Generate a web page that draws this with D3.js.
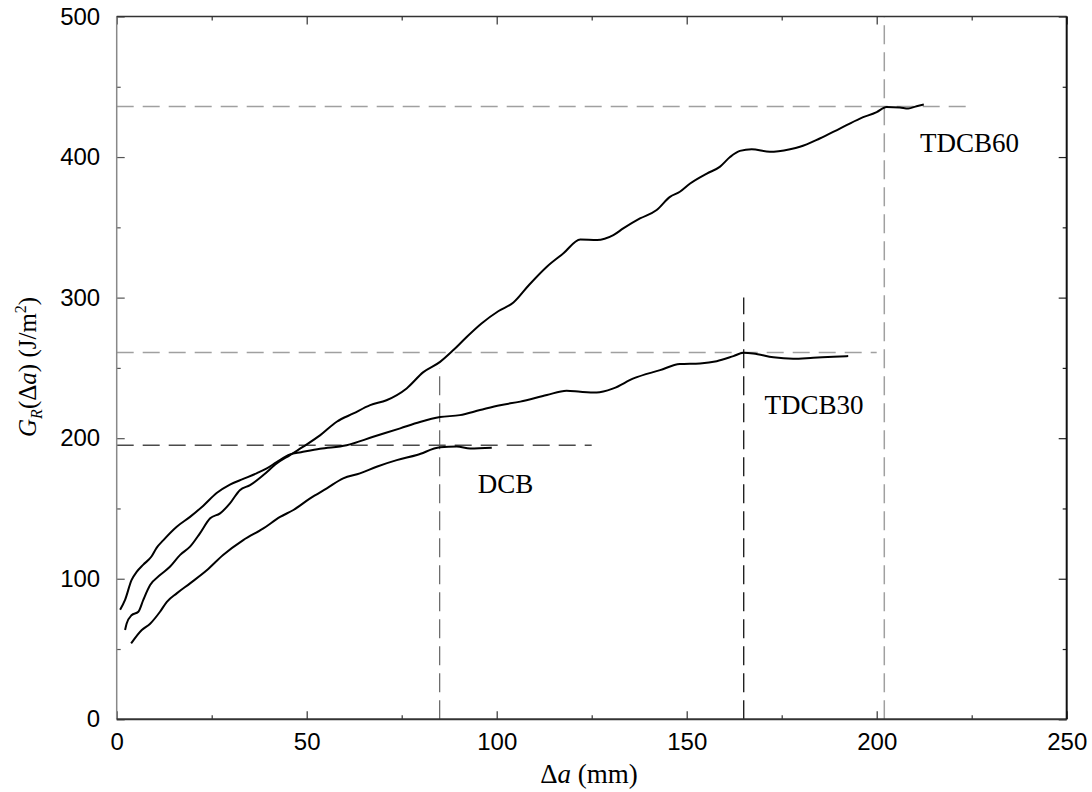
<!DOCTYPE html>
<html>
<head>
<meta charset="utf-8">
<script src="https://cdn.jsdelivr.net/npm/d3@7"></script>
<style>
  body { margin: 0; background: #fff; }
  svg { display: block; }
</style>
</head>
<body>
<svg id="chart"></svg>
<script>
// crack extension da (mm) vs resistance G_R (J/m^2)
const dcb = [[3.8,54],[6.6,63.5],[8.8,68],[11.4,76.5],[13.2,83.6],[15.8,89.6],[19.3,96.7],[23.7,106],[28,116.9],
  [33.3,127.5],[38.6,135.8],[43,144],[46.5,148.9],[50.9,157.2],[55.3,164.3],[59.6,171.4],[64,175],[68.4,179.7],
  [73.7,184.4],[79,188],[85.1,193.5],[89.5,194],[93,192.7],[98.7,193.2]];

const tdcb30 = [[0.9,78],[2.2,85],[3.9,99],[5.3,105],[7,110],[9.2,116],[10.5,122],[12.3,127.5],[15.8,137],[19.3,144],
  [22.8,152],[26.3,161],[29.8,167],[33.3,171],[36.8,175],[39.5,178.5],[42.1,183],[45.6,188.5],[48.5,190],[53.5,192.5],
  [60.5,195],[67.5,201],[74.6,207],[79.8,211.5],[85.1,215],[90.3,216.4],[95.6,220],[100.9,223.5],[106.2,226],
  [113.2,230.7],[118.4,233.7],[122,233],[126.3,232.5],[130.7,235.4],[136,242.5],[143,248.4],[148.2,252.7],
  [153.5,253.2],[157.9,254.8],[162.3,258.4],[164.9,260.7],[167.5,260.3],[172.8,257.5],[178,256.5],[183.3,257.2],
  [188.6,257.9],[192.5,258.4]];

const tdcb60 = [[2.2,63.5],[2.6,68],[3.9,74],[5.7,76.5],[7,85],[8.8,95.5],[11.4,102.6],[14,108.5],[16.7,117],
  [19.3,122.8],[21.9,132.3],[24.6,143],[27.2,146.5],[29.8,153.6],[32.4,163],[35.1,166.6],[38.6,173.8],[42.1,182],
  [45.6,188],[49.1,194],[53.5,202],[57.9,211.7],[62.3,217.6],[66.7,223.5],[71,227],[76.3,235.4],[80.7,247],
  [85.1,254.3],[88.6,262.7],[92.1,272],[96,281.6],[100.5,290.5],[104.4,296.5],[108.5,309],[113.2,322],[117.5,331.4],
  [122,341.4],[126.4,341],[130.7,344.5],[133.3,349.2],[137.7,356.3],[142.1,362.3],[145.6,371.7],[148.2,375.3],
  [150.9,381.2],[155.3,388.3],[158.7,393],[161.4,400],[164,404.4],[167.1,405.6],[171.9,403.7],[177.2,405.6],
  [179.8,407.3],[185,413.2],[190.3,420.3],[195.6,427.4],[200,432],[202.6,435.7],[206.1,435.3],[208.3,434.6],
  [210.5,436.2],[212.4,437.4]];

const seriesNames = ["DCB", "TDCB30", "TDCB60"];
// label anchor [x, y] in data units
const labelAt = [[95, 161], [170.5, 217.5], [211.4, 403.5]];
// reference levels: [G, x from, x to] and [da, G from, G to]
const hLines = [[195, 0, 125], [261, 0, 200], [436, 0, 225]];
const vLines = [[85, 0, 250], [165, 0, 300], [202, 0, 500]];

const xMajor = [0, 50, 100, 150, 200, 250];
const xMinor = [25, 75, 125, 175, 225];
const yMajor = [0, 100, 200, 300, 400, 500];
const yMinor = [50, 150, 250, 350, 450];

const W = 1092, H = 792;
const margin = { top: 16.5, right: 25.3, bottom: 72.7, left: 116.7 };
const width = W - margin.left - margin.right;
const height = H - margin.top - margin.bottom;

const svg = d3.select("#chart").attr("width", W).attr("height", H);
const g = svg.append("g").attr("transform", `translate(${margin.left},${margin.top})`);

const x = d3.scaleLinear().domain([0, 250]).range([0, width]);
const y = d3.scaleLinear().domain([0, 500]).range([height, 0]);

// dashed reference lines
const hStyle = [
  { stroke: "#4a4a4a", dash: "17,9", w: 1.6 },
  { stroke: "#a0a0a0", dash: "17,9", w: 1.5 },
  { stroke: "#a0a0a0", dash: "17,9", w: 1.5 }
];
const vStyle = [
  { stroke: "#555", dash: "19,8", w: 1.1 },
  { stroke: "#222", dash: "19,8", w: 1.4 },
  { stroke: "#a0a0a0", dash: "19,8", w: 1.5 }
];

g.selectAll(".hline").data(hLines).enter().append("line")
  .attr("class", "hline")
  .attr("x1", d => x(d[1])).attr("x2", d => x(d[2]))
  .attr("y1", d => y(d[0])).attr("y2", d => y(d[0]))
  .attr("stroke", (d, i) => hStyle[i].stroke)
  .attr("stroke-width", (d, i) => hStyle[i].w)
  .attr("stroke-dasharray", (d, i) => hStyle[i].dash);

g.selectAll(".vline").data(vLines).enter().append("line")
  .attr("class", "vline")
  .attr("x1", d => x(d[0])).attr("x2", d => x(d[0]))
  .attr("y1", d => y(d[1])).attr("y2", d => y(d[2]))
  .attr("stroke", (d, i) => vStyle[i].stroke)
  .attr("stroke-width", (d, i) => vStyle[i].w)
  .attr("stroke-dasharray", (d, i) => vStyle[i].dash);

// curves
const line = d3.line()
  .x(d => x(d[0]))
  .y(d => y(d[1]))
  .curve(d3.curveMonotoneX);

g.selectAll(".curve").data([dcb, tdcb30, tdcb60]).enter().append("path")
  .attr("class", "curve")
  .attr("d", line)
  .attr("fill", "none")
  .attr("stroke", "#000")
  .attr("stroke-width", 2);

// labels
g.selectAll(".lbl").data(seriesNames).enter().append("text")
  .attr("class", "lbl")
  .attr("x", (d, i) => x(labelAt[i][0]))
  .attr("y", (d, i) => y(labelAt[i][1]))
  .attr("font-family", "Liberation Serif, Times New Roman, serif")
  .attr("font-size", 27)
  .attr("fill", "#000")
  .text(d => d);

// axes, ticks pointing inward
function styleAxis(sel, color) {
  sel.select(".domain").remove();
  sel.selectAll(".tick line").attr("stroke", color).attr("stroke-width", 1.2);
  sel.selectAll("text")
    .attr("font-family", "Liberation Sans, Arial, Helvetica, sans-serif")
    .attr("font-size", 24)
    .attr("fill", "#000");
}

const fmt = d3.format("d");
g.append("g").attr("transform", `translate(0,${height})`)
  .call(d3.axisBottom(x).tickValues(xMajor).tickSize(-8).tickPadding(14).tickFormat(fmt))
  .call(s => styleAxis(s, "#333"));
g.append("g").attr("transform", `translate(0,${height})`)
  .call(d3.axisBottom(x).tickValues(xMinor).tickSize(-4).tickFormat(""))
  .call(s => styleAxis(s, "#333"));
g.append("g")
  .call(d3.axisTop(x).tickValues(xMajor).tickSize(-8).tickFormat(""))
  .call(s => styleAxis(s, "#333"));
g.append("g")
  .call(d3.axisTop(x).tickValues(xMinor).tickSize(-4).tickFormat(""))
  .call(s => styleAxis(s, "#333"));

g.append("g")
  .call(d3.axisLeft(y).tickValues(yMajor).tickSize(-8).tickPadding(16.5).tickFormat(fmt))
  .call(s => styleAxis(s, "#555"));
g.append("g")
  .call(d3.axisLeft(y).tickValues(yMinor).tickSize(-4).tickFormat(""))
  .call(s => styleAxis(s, "#555"));
g.append("g").attr("transform", `translate(${width},0)`)
  .call(d3.axisRight(y).tickValues(yMajor).tickSize(-8).tickFormat(""))
  .call(s => styleAxis(s, "#222"));
g.append("g").attr("transform", `translate(${width},0)`)
  .call(d3.axisRight(y).tickValues(yMinor).tickSize(-4).tickFormat(""))
  .call(s => styleAxis(s, "#222"));

// frame
g.append("line").attr("x1", 0).attr("x2", 0).attr("y1", 0).attr("y2", height)
  .attr("stroke", "#888").attr("stroke-width", 1.5);
g.append("line").attr("x1", 0).attr("x2", width).attr("y1", height).attr("y2", height)
  .attr("stroke", "#333").attr("stroke-width", 2);
g.append("line").attr("x1", 0).attr("x2", width).attr("y1", 0).attr("y2", 0)
  .attr("stroke", "#333").attr("stroke-width", 1.5);
g.append("line").attr("x1", width).attr("x2", width).attr("y1", 0).attr("y2", height)
  .attr("stroke", "#111").attr("stroke-width", 2);

// axis titles
const serif = "Liberation Serif, Times New Roman, serif";
const xt = svg.append("text")
  .attr("x", 589)
  .attr("y", 783)
  .attr("text-anchor", "middle")
  .attr("font-family", serif)
  .attr("font-size", 27);
xt.append("tspan").text("Δ");
xt.append("tspan").attr("font-style", "italic").text("a");
xt.append("tspan").text(" (mm)");

const yt = svg.append("text")
  .attr("transform", `translate(36,${margin.top + height / 2 - 1}) rotate(-90)`)
  .attr("text-anchor", "middle")
  .attr("font-family", serif)
  .attr("font-size", 25);
yt.append("tspan").attr("font-style", "italic").text("G");
yt.append("tspan").attr("font-style", "italic").attr("font-size", 16).attr("dy", 6).text("R");
yt.append("tspan").attr("dy", -6).text("(Δ");
yt.append("tspan").attr("font-style", "italic").text("a");
yt.append("tspan").text(") (J/m");
yt.append("tspan").attr("font-size", 16).attr("dy", -10).text("2");
yt.append("tspan").attr("dy", 10).text(")");
</script>
</body>
</html>
